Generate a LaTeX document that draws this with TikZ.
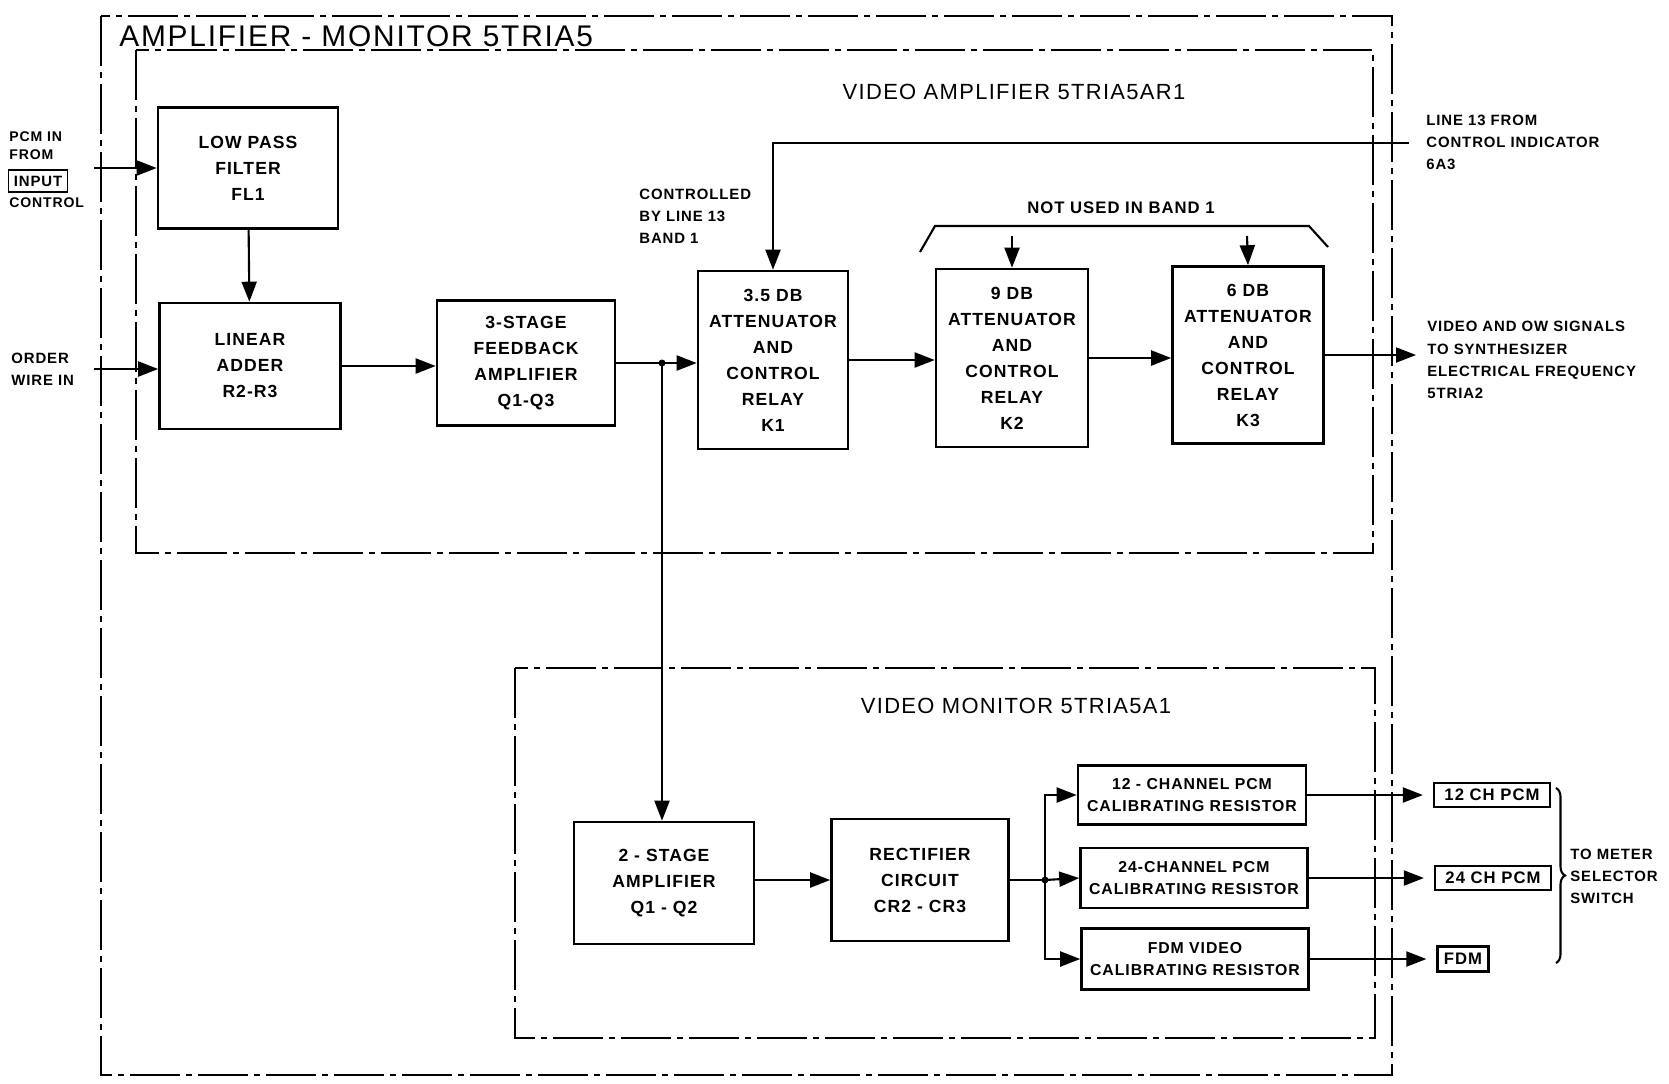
\documentclass[tikz,border=0pt]{standalone}
\usepackage{fontspec}
\setmainfont{Liberation Sans}[LetterSpace=6]
\usetikzlibrary{arrows.meta,decorations.pathreplacing}
\tikzset{
  blk/.style={draw,line width=1.5pt,align=center,inner sep=0pt,font=\bfseries\fontsize{10}{14.8}\selectfont},
  cal/.style={blk,font=\bfseries\fontsize{9}{12.7}\selectfont},
  outbox/.style={draw,line width=1.3pt,inner sep=0pt,font=\bfseries\fontsize{9.5}{11}\selectfont},
  lbl/.style={align=left,inner sep=0pt,anchor=west,font=\bfseries\fontsize{8.5}{12.6}\selectfont},
  ttl/.style={inner sep=0pt,font=\fontsize{12.5}{15}\selectfont},
  sig/.style={line width=1.2pt,-{Triangle[length=0.4cm,width=0.3cm]}},
  wire/.style={line width=1.2pt},
  frame/.style={line width=1.1pt,dash pattern=on 1cm off 0.12cm on 0.12cm off 0.12cm},
}
\begin{document}
\begin{tikzpicture}[x=0.02cm,y=-0.02cm]
  \useasboundingbox (0,0) rectangle (1669,1083);
  \draw[frame] (101,16) rectangle (1392,1075);
  \draw[frame] (136,50) rectangle (1373,553);
  \draw[frame] (515,668) rectangle (1375,1038);
  \node[ttl,anchor=west,font=\fontsize{17}{20}\selectfont] (tmain) at (119,36) {AMPLIFIER - MONITOR 5TRIA5};
  \node[ttl] (tamp) at (1014,92) {VIDEO AMPLIFIER 5TRIA5AR1};
  \node[ttl] (tmon) at (1016,706) {VIDEO MONITOR 5TRIA5A1};

  \node[blk,minimum width=3.6cm,minimum height=2.42cm] (lpf) at (248,168) {LOW PASS\\FILTER\\FL1};
  \node[blk,minimum width=3.62cm,minimum height=2.52cm] (adder) at (250,366) {LINEAR\\ADDER\\R2-R3};
  \node[blk,minimum width=3.56cm,minimum height=2.5cm] (fb) at (526,363) {3-STAGE\\FEEDBACK\\AMPLIFIER\\Q1-Q3};
  \node[blk,minimum width=3.0cm,minimum height=3.56cm] (kone) at (773,360) {3.5 DB\\ATTENUATOR\\AND\\CONTROL\\RELAY\\K1};
  \node[blk,minimum width=3.04cm,minimum height=3.56cm] (ktwo) at (1012,358) {9 DB\\ATTENUATOR\\AND\\CONTROL\\RELAY\\K2};
  \node[blk,minimum width=3.02cm,minimum height=3.54cm] (kthree) at (1248,355) {6 DB\\ATTENUATOR\\AND\\CONTROL\\RELAY\\K3};
  \node[blk,minimum width=3.6cm,minimum height=2.44cm] (amptwo) at (664,883) {2 - STAGE\\AMPLIFIER\\Q1 - Q2};
  \node[blk,minimum width=3.54cm,minimum height=2.44cm] (rect) at (920,880) {RECTIFIER\\CIRCUIT\\CR2 - CR3};
  \node[cal,minimum width=4.56cm,minimum height=1.18cm] (cha) at (1192,795) {12 - CHANNEL PCM\\CALIBRATING RESISTOR};
  \node[cal,minimum width=4.54cm,minimum height=1.2cm] (chb) at (1194,878) {24-CHANNEL PCM\\CALIBRATING RESISTOR};
  \node[cal,minimum width=4.54cm,minimum height=1.22cm] (fdm) at (1195,959) {FDM VIDEO\\CALIBRATING RESISTOR};
  \node[outbox,minimum width=2.32cm,minimum height=0.48cm] (pcma) at (1492,795) {12 CH PCM};
  \node[outbox,minimum width=2.32cm,minimum height=0.48cm] (pcmb) at (1493,878) {24 CH PCM};
  \node[outbox,minimum width=1.02cm,minimum height=0.5cm] (fdmout) at (1463,959) {FDM};

  \node[lbl,font=\bfseries\fontsize{8}{10.2}\selectfont] (pcmin) at (9,146) {PCM IN\\FROM};
  \node[outbox,line width=1pt,minimum width=1.18cm,minimum height=0.44cm,font=\bfseries\fontsize{8.5}{10}\selectfont] (inbox) at (38,181) {INPUT};
  \node[lbl,font=\bfseries\fontsize{8}{10.2}\selectfont] (inctl) at (9,203) {CONTROL};
  \node[lbl] (owire) at (11,369) {ORDER\\WIRE IN};
  \node[lbl] (ctlby) at (639,216) {CONTROLLED\\BY LINE 13\\BAND 1};
  \node[lbl] (lineft) at (1426,142) {LINE 13 FROM\\CONTROL INDICATOR\\6A3};
  \node[lbl] (synth) at (1427,360) {VIDEO AND OW SIGNALS\\TO SYNTHESIZER\\ELECTRICAL FREQUENCY\\5TRIA2};
  \node[lbl,anchor=center,font=\bfseries\fontsize{9.5}{12}\selectfont] (notused) at (1121,208) {NOT USED IN BAND 1};
  \node[lbl] (meter) at (1570,876) {TO METER\\SELECTOR\\SWITCH};

  \coordinate (pin) at (94,168);
  \coordinate (owin) at (94,369);
  \coordinate (ctl) at (1409,143);
  \coordinate (vout) at (1416,355);
  \coordinate (jn) at (662,363);
  \coordinate (jb) at (1045,880);
  \coordinate (bra) at (1012,236);
  \coordinate (brb) at (1247,236);

  \draw[sig] (pin) -- (pin -| lpf.west);
  \draw[sig] (owin) -- (owin -| adder.west);
  \draw[sig] (lpf) -- (adder);
  \draw[sig] (adder.east) -- (adder.east -| fb.west);
  \draw[sig] (fb.east) -- (fb.east -| kone.west);
  \draw[sig] (kone.east) -- (kone.east -| ktwo.west);
  \draw[sig] (ktwo.east) -- (ktwo.east -| kthree.west);
  \draw[sig] (kthree.east) -- (vout);
  \draw[sig] (ctl) -| (kone.north);
  \draw[wire] (920,252) -- (935,226) -- (1309,226) -- (1328,247);
  \draw[sig] (bra) -- (ktwo.north);
  \draw[sig] (brb) -- (kthree.north);
  \fill (jn) circle (3.5);
  \draw[sig] (jn) -- (jn |- amptwo.north);
  \draw[sig] (rect.west -| amptwo.east) -- (rect.west);
  \draw[wire] (rect.east) -- (jb);
  \fill (jb) circle (3.5);
  \draw[sig] (jb) |- (cha.west);
  \draw[sig] (jb) -- (chb.west);
  \draw[sig] (jb) |- (fdm.west);
  \draw[sig,shorten >=0.2cm] (cha.east) -- (pcma.west);
  \draw[sig,shorten >=0.2cm] (chb.east) -- (pcmb.west);
  \draw[sig,shorten >=0.2cm] (fdm.east) -- (fdmout.west);
  \draw[wire,decorate,decoration={brace,amplitude=0.18cm}] (1556,788) -- (1556,963);
\end{tikzpicture}
\end{document}
